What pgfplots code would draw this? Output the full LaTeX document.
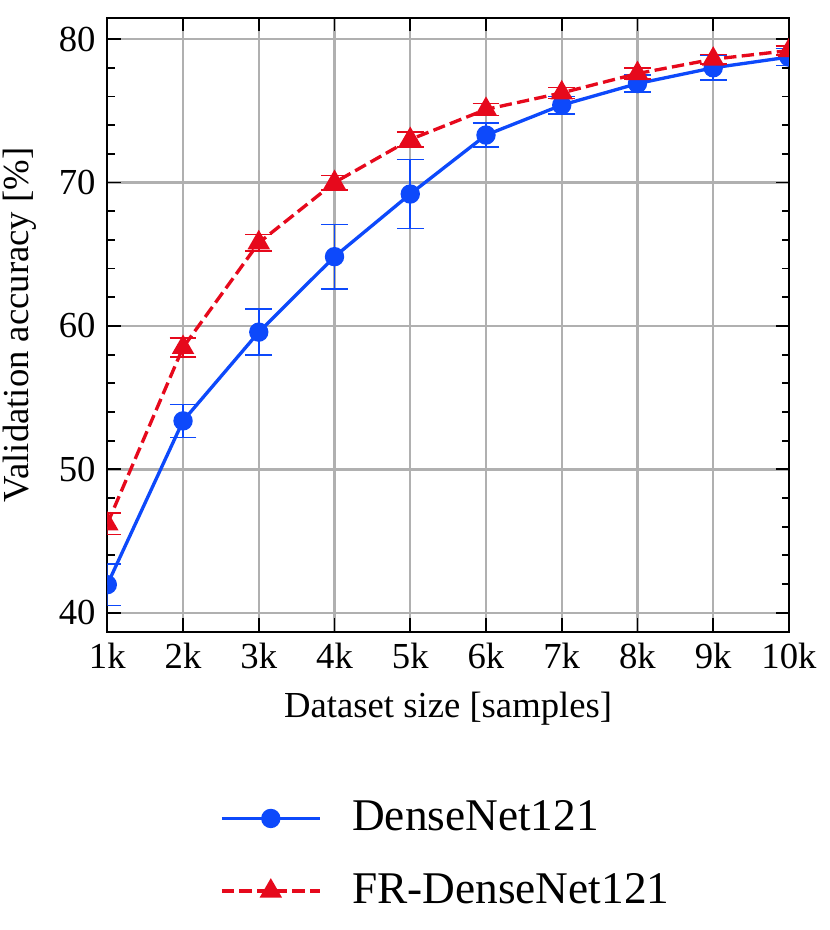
\documentclass[border=0pt]{standalone}
\usepackage{pgfplots}
\pgfplotsset{compat=1.18}
\usepackage{fontspec}
\setmainfont{Liberation Serif}
\definecolor{hvblue}{HTML}{0D49FB}
\definecolor{hvred}{HTML}{E6091C}
\definecolor{gridgray}{HTML}{B0B0B0}
\begin{document}
\begin{tikzpicture}
\useasboundingbox (-32.19pt,-89.49pt) rectangle (216.81pt,189.51pt);
\begin{axis}[
  scale only axis,
  width=204.5pt, height=184.1pt,
  xmin=1, xmax=10, ymin=38.68, ymax=81.47,
  xtick={1,2,3,4,5,6,7,8,9,10},
  xticklabels={1k,2k,3k,4k,5k,6k,7k,8k,9k,10k},
  ytick={40,50,60,70,80},
  minor y tick num=4,
  tick align=inside,
  xtick pos=both, ytick pos=both,
  major tick length=4pt, minor tick length=2.2pt,
  every tick/.style={black, line width=0.55pt},
  axis line style={line width=0.6pt},
  grid=major,
  major grid style={gridgray, line width=0.7pt},
  clip marker paths=true,
  /pgf/number format/assume math mode=true,
  ticklabel style={font=\fontsize{11}{13}\selectfont},
  label style={font=\fontsize{11}{13}\selectfont},
  xlabel={Dataset size [samples]},
  ylabel={Validation accuracy [\%]},
  legend style={at={(0.5,-0.253)}, anchor=north, draw=none, fill=none,
    font=\fontsize{13.6}{16}\selectfont, row sep=7.3pt,
    /tikz/every odd column/.append style={column sep=7.2pt}},
  legend cell align=left,
  legend image code/.code={\draw[mark repeat=2,mark phase=2,#1] plot coordinates {(0pt,0pt) (14.7pt,0pt) (29.4pt,0pt)};},
]
\addplot[hvblue, line width=1pt, mark=*, mark size=2.4pt, mark options={solid},
  error bars/.cd, y dir=both, y explicit,
  error bar style={line width=0.5pt, solid},
  error mark options={rotate=90, mark size=4pt, line width=0.5pt, hvblue}]
  table[x=x, y=y, y error=e] {
x y e
1 41.96 1.45
2 53.38 1.15
3 59.57 1.60
4 64.83 2.25
5 69.20 2.40
6 73.31 0.82
7 75.40 0.60
8 76.90 0.60
9 78.00 0.85
10 78.75 0.60
};
\addlegendentry{DenseNet121}
\addplot[hvred, line width=1pt, dash pattern=on 3.7pt off 1.6pt, mark=triangle*, mark size=2.9pt, mark options={solid},
  error bars/.cd, y dir=both, y explicit,
  error bar style={line width=0.5pt, solid},
  error mark options={rotate=90, mark size=4pt, line width=0.5pt, hvred}]
  table[x=x, y=y, y error=e] {
x y e
1 46.20 0.75
2 58.50 0.67
3 65.80 0.58
4 70.00 0.50
5 73.00 0.53
6 75.10 0.42
7 76.25 0.38
8 77.60 0.38
9 78.60 0.33
10 79.20 0.30
};
\addlegendentry{FR-DenseNet121}
\end{axis}
\end{tikzpicture}
\end{document}
